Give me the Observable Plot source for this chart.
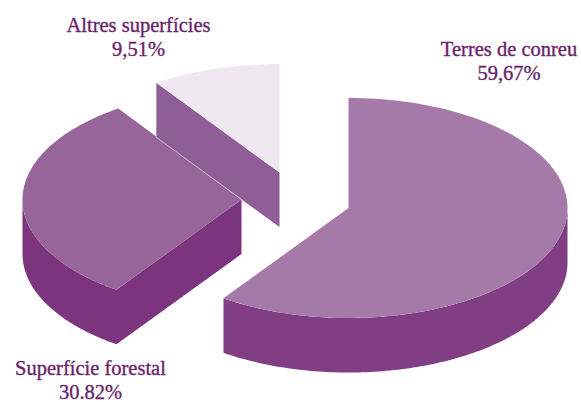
<!DOCTYPE html>
<html>
<head>
<meta charset="utf-8">
<script src="https://cdn.jsdelivr.net/npm/d3@7"></script>
<script src="https://cdn.jsdelivr.net/npm/@observablehq/plot@0.6"></script>
<style>html,body{margin:0;padding:0;background:#fff}svg{display:block}</style>
</head>
<body>
<div id="chart"></div>
<script>
const categories = ["Terres de conreu", "Superfície forestal", "Altres superfícies"];
const shares = [59.67, 30.82, 9.51];
const shareLabels = ["59,67%", "30.82%", "9,51%"];

// Layout of the exploded 3D pie (pixels in the identity scales)
const apexX = [348, 241, 279];
const apexY = [207.5, 199, 172];
const radiiY = [110, 110, 108.5];
const topColors = ["#a57aa8", "#97659a", "#efe8f1"];
const wallColors = ["#813e84", "#7d347f", "#905e96"];
const labelX = [508.5, 90, 138];
const labelY = [60, 379, 36];
const rx = 219, depth = 54.5, deg = Math.PI / 180;

const total = d3.sum(shares);
const ends = d3.cumsum(shares).map(s => s / total * 360);
const starts = ends.map((e, i) => i ? ends[i - 1] : 0);

const at = (i, a) => [apexX[i] + rx * Math.sin(a * deg), apexY[i] - radiiY[i] * Math.cos(a * deg)];
const arc = (i, a0, a1) => a1 < a0 ? [] : d3.range(0, 121).map(k => at(i, a0 + (a1 - a0) * k / 120));
const apex = i => [apexX[i], apexY[i]];

const faces = [];
const push = (id, fill, pts) => pts.forEach(([x, y]) => faces.push({id, fill, x, y}));
categories.forEach((c, i) => {
  const t0 = starts[i], t1 = ends[i];
  let path = arc(i, Math.max(t0, 90), Math.min(t1, 270));
  if (Math.sin(t0 * deg) < -1e-6) path = t0 < 90 || t0 > 270 ? [apex(i), at(i, t0)] : [apex(i), ...path];
  const wall = [...path, ...path.slice().reverse().map(([x, y]) => [x, y + depth])];
  push(`w${i}`, wallColors[i], wall);
  push(`t${i}`, topColors[i], [apex(i), ...arc(i, t0, t1)]);
});

// Hairline seam where the forest slice meets the wall of the third slice
const seam = [[at(2, starts[2])[0], at(2, starts[2])[1] + depth], apex(1)].map(([x, y]) => ({x, y}));

const labels = categories.map((c, i) => ({t: `${c}\n${shareLabels[i]}`, x: labelX[i], y: labelY[i]}));

const plot = Plot.plot({
  width: 581, height: 402, margin: 0,
  x: {type: "identity"}, y: {type: "identity"},
  axis: null,
  style: {background: "#fff"},
  marks: [
    Plot.line(faces, {x: "x", y: "y", z: "id", fill: "fill", stroke: null, curve: "linear"}),
    Plot.line(seam, {x: "x", y: "y", stroke: "#fff", strokeWidth: 0.5}),
    Plot.text(labels, {x: "x", y: "y", text: "t", fill: "#6a1f6b", stroke: "#6a1f6b", strokeWidth: 0.35, fontSize: 20.5,
      lineHeight: 1.16, fontFamily: "Liberation Serif", textAnchor: "middle", lineAnchor: "middle"})
  ]
});
document.getElementById("chart").append(plot);
</script>
</body>
</html>
